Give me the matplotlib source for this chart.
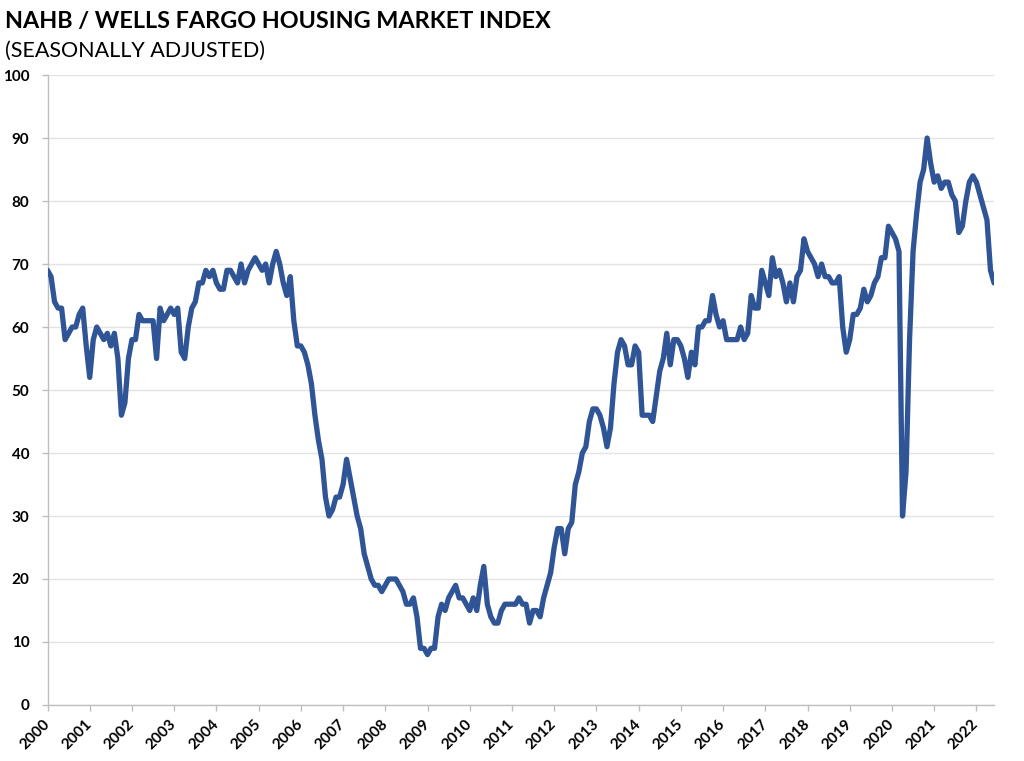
"""
NAHB / Wells Fargo Housing Market Index, monthly, Jan 2000 - Jun 2022.
"""

import numpy as np
import matplotlib
matplotlib.use('Agg')
import matplotlib.pyplot as plt

# monthly index values, seasonally adjusted
hmi_2000s = [
    69, 68, 64, 63, 63, 58, 59, 60, 60, 62, 63, 57,   # 2000
    52, 58, 60, 59, 58, 59, 57, 59, 55, 46, 48, 55,   # 2001
    58, 58, 62, 61, 61, 61, 61, 55, 63, 61, 62, 63,   # 2002
    62, 63, 56, 55, 60, 63, 64, 67, 67, 69, 68, 69,   # 2003
    67, 66, 66, 69, 69, 68, 67, 70, 67, 69, 70, 71,   # 2004
    70, 69, 70, 67, 70, 72, 70, 67, 65, 68, 61, 57,   # 2005
    57, 56, 54, 51, 46, 42, 39, 33, 30, 31, 33, 33,   # 2006
    35, 39, 36, 33, 30, 28, 24, 22, 20, 19, 19, 18,   # 2007
    19, 20, 20, 20, 19, 18, 16, 16, 17, 14, 9, 9,     # 2008
    8, 9, 9, 14, 16, 15, 17, 18, 19, 17, 17, 16,      # 2009
]
hmi_2010s = [
    15, 17, 15, 19, 22, 16, 14, 13, 13, 15, 16, 16,   # 2010
    16, 16, 17, 16, 16, 13, 15, 15, 14, 17, 19, 21,   # 2011
    25, 28, 28, 24, 28, 29, 35, 37, 40, 41, 45, 47,   # 2012
    47, 46, 44, 41, 44, 51, 56, 58, 57, 54, 54, 57,   # 2013
    56, 46, 46, 46, 45, 49, 53, 55, 59, 54, 58, 58,   # 2014
    57, 55, 52, 56, 54, 60, 60, 61, 61, 65, 62, 60,   # 2015
    61, 58, 58, 58, 58, 60, 58, 59, 65, 63, 63, 69,   # 2016
    67, 65, 71, 68, 69, 67, 64, 67, 64, 68, 69, 74,   # 2017
    72, 71, 70, 68, 70, 68, 68, 67, 67, 68, 60, 56,   # 2018
    58, 62, 62, 63, 66, 64, 65, 67, 68, 71, 71, 76,   # 2019
]
hmi_2020s = [
    75, 74, 72, 30, 37, 58, 72, 78, 83, 85, 90, 86,   # 2020
    83, 84, 82, 83, 83, 81, 80, 75, 76, 80, 83, 84,   # 2021
    83, 81, 79, 77, 69, 67,                           # 2022 (Jan-Jun)
]
years = list(range(2000, 2023))

TITLE = 'NAHB / WELLS FARGO HOUSING MARKET INDEX'
SUBTITLE = '(SEASONALLY ADJUSTED)'
LINE_COLOR = '#2F5597'
GRID_COLOR = '#e3e3e3'
AXIS_COLOR = '#bfbfbf'
FONT = ['Lato', 'DejaVu Sans']


def main():
    plt.rcParams['font.family'] = FONT
    values = np.array(hmi_2000s + hmi_2010s + hmi_2020s, dtype=float)
    months = np.arange(len(values))

    fig = plt.figure(figsize=(10.24, 7.61), dpi=100)
    ax = fig.add_axes([0.0464, 0.0736, 0.9243, 0.8278])

    ax.plot(months, values, color=LINE_COLOR, lw=3.8, solid_joinstyle='round',
            solid_capstyle='round', zorder=3)

    ax.set_xlim(0, len(values) - 1)
    ax.set_ylim(0, 100)
    ax.set_yticks(np.arange(0, 101, 10))
    ax.set_xticks(np.arange(len(years)) * 12)
    ax.set_xticklabels([str(y) for y in years], rotation=45, ha='right',
                       va='center', rotation_mode='anchor')

    ax.grid(axis='y', color=GRID_COLOR, lw=1.0, zorder=0)
    ax.set_axisbelow(True)
    for side in ('top', 'right'):
        ax.spines[side].set_visible(False)
    for side in ('left', 'bottom'):
        ax.spines[side].set_color(AXIS_COLOR)
        ax.spines[side].set_linewidth(1.0)
    ax.tick_params(axis='both', colors=AXIS_COLOR, length=4, width=1.0,
                   labelcolor='black', labelsize=11)
    ax.tick_params(axis='y', pad=9)
    ax.tick_params(axis='x', pad=8)
    for lab in ax.get_xticklabels() + ax.get_yticklabels():
        lab.set_fontweight('bold')

    fig.text(0.005, 0.9632, TITLE, fontsize=16.8, fontweight='bold',
             ha='left', va='baseline')
    fig.text(0.005, 0.925, SUBTITLE, fontsize=15.5, ha='left', va='baseline')

    fig.savefig('out.png', dpi=100)
    plt.close(fig)


if __name__ == '__main__':
    main()
